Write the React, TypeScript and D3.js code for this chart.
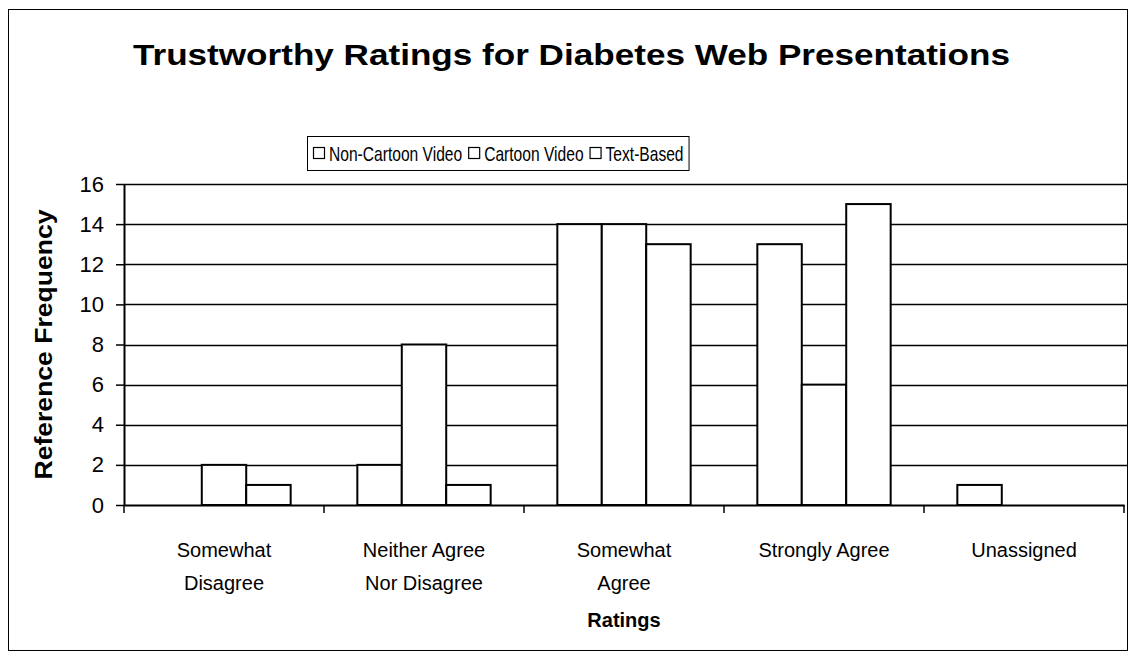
import React, { useEffect, useRef } from 'react';
import * as d3 from 'd3';

const categories = [
  ['Somewhat', 'Disagree'],
  ['Neither Agree', 'Nor Disagree'],
  ['Somewhat', 'Agree'],
  ['Strongly Agree'],
  ['Unassigned'],
];
const seriesNames = ['Non-Cartoon Video', 'Cartoon Video', 'Text-Based'];
const nonCartoon = [0, 2, 14, 13, 1];
const cartoon = [2, 8, 14, 6, 0];
const textBased = [1, 1, 13, 15, 0];
const yTicks = [0, 2, 4, 6, 8, 10, 12, 14, 16];

const W = 1134;
const H = 657;
const FONT = '"Liberation Sans", Arial, sans-serif';

const App: React.FC = () => {
  const svgRef = useRef<SVGSVGElement | null>(null);

  useEffect(() => {
    const svg = d3.select(svgRef.current);
    svg.selectAll('*').remove();

    const left = 124, right = 1124, top = 184, bottom = 505;
    const series = [nonCartoon, cartoon, textBased];

    // outer frame
    svg.append('rect').attr('x', 8.5).attr('y', 9.5).attr('width', 1119).attr('height', 641)
      .attr('fill', 'white').attr('stroke', '#000').attr('stroke-width', 1);

    svg.append('text').attr('x', 133).attr('y', 65)
      .attr('font-family', FONT).attr('font-weight', 'bold').attr('font-size', 30)
      .attr('textLength', 877).attr('lengthAdjust', 'spacingAndGlyphs')
      .text('Trustworthy Ratings for Diabetes Web Presentations');

    const x0 = d3.scaleBand<number>().domain(d3.range(categories.length)).range([left, right]).padding(0);
    const x1 = d3.scaleBand<number>().domain(d3.range(seriesNames.length)).range([0, x0.bandwidth()])
      .paddingInner(0).paddingOuter(0.75);
    const y = d3.scaleLinear().domain([0, 16]).range([bottom, top]);

    // gridlines
    svg.append('g').selectAll('line').data(yTicks.slice(1)).enter().append('line')
      .attr('x1', left).attr('x2', right + 3)
      .attr('y1', (d) => Math.round(y(d)) + 0.5).attr('y2', (d) => Math.round(y(d)) + 0.5)
      .attr('stroke', '#000').attr('stroke-width', 1.3);

    // bars
    const g = svg.append('g');
    series.forEach((vals, si) => {
      g.selectAll(`rect.s${si}`).data(vals).enter().append('rect')
        .attr('class', `s${si}`)
        .attr('x', (_, i) => x0(i)! + x1(si)!)
        .attr('y', (d) => y(d))
        .attr('width', x1.bandwidth())
        .attr('height', (d) => bottom - y(d))
        .attr('fill', 'white').attr('stroke', '#000').attr('stroke-width', 2);
    });

    // y axis
    const ya = svg.append('g').attr('transform', `translate(${left},0)`)
      .call(d3.axisLeft(y).tickValues(yTicks).tickSize(8).tickPadding(12).tickSizeOuter(0));
    ya.select('.domain').attr('stroke-width', 2);
    ya.selectAll('line').attr('stroke-width', 1.5);
    ya.selectAll('text').attr('font-family', FONT).attr('font-size', 22).attr('fill', '#000');

    // x axis
    const xa = svg.append('g').attr('transform', `translate(0,${bottom})`)
      .call(d3.axisBottom(x0).tickValues([]).tickSizeOuter(0));
    xa.select('.domain').attr('stroke-width', 2);
    xa.selectAll('.bnd').data(d3.range(categories.length + 1)).enter().append('line')
      .attr('x1', (i) => left + i * x0.step()).attr('x2', (i) => left + i * x0.step())
      .attr('y1', 0).attr('y2', 8).attr('stroke', '#000').attr('stroke-width', 1.5);

    categories.forEach((lines, i) => {
      const t = svg.append('text').attr('x', x0(i)! + x0.bandwidth() / 2).attr('y', 557)
        .attr('text-anchor', 'middle').attr('font-family', FONT).attr('font-size', 20);
      lines.forEach((ln, k) => {
        t.append('tspan').attr('x', x0(i)! + x0.bandwidth() / 2).attr('dy', k === 0 ? 0 : 33).text(ln);
      });
    });

    svg.append('text').attr('x', 624).attr('y', 627).attr('text-anchor', 'middle')
      .attr('font-family', FONT).attr('font-weight', 'bold').attr('font-size', 20).text('Ratings');

    svg.append('text').attr('transform', `translate(52,${(top + bottom) / 2}) rotate(-90)`)
      .attr('text-anchor', 'middle').attr('font-family', FONT).attr('font-weight', 'bold')
      .attr('font-size', 24).attr('textLength', 270).attr('lengthAdjust', 'spacingAndGlyphs')
      .text('Reference Frequency');

    // legend, text squeezed horizontally like the printed original
    const squeeze = 0.78;
    const lg = svg.append('g');
    const box = lg.append('rect').attr('y', 136.5).attr('height', 34)
      .attr('fill', 'white').attr('stroke', '#000').attr('stroke-width', 1);
    let cx = 313;
    seriesNames.forEach((name) => {
      lg.append('rect').attr('x', cx + 0.5).attr('y', 147.5).attr('width', 11).attr('height', 11)
        .attr('fill', 'white').attr('stroke', '#000').attr('stroke-width', 1.2);
      const t = lg.append('g').attr('transform', `translate(${cx + 16},161) scale(${squeeze},1)`)
        .append('text').attr('x', 0).attr('y', 0).attr('font-family', FONT)
        .attr('font-size', 20).text(name);
      const w = (t.node() as SVGTextElement).getComputedTextLength() * squeeze;
      cx += 16 + w + 6;
    });
    box.attr('x', 307.5).attr('width', cx - 6 + 5 - 307);
  }, []);

  return (
    <svg ref={svgRef} width={W} height={H}
      style={{ position: 'absolute', left: 0, top: 0, background: 'white' }} />
  );
};

export default App;
